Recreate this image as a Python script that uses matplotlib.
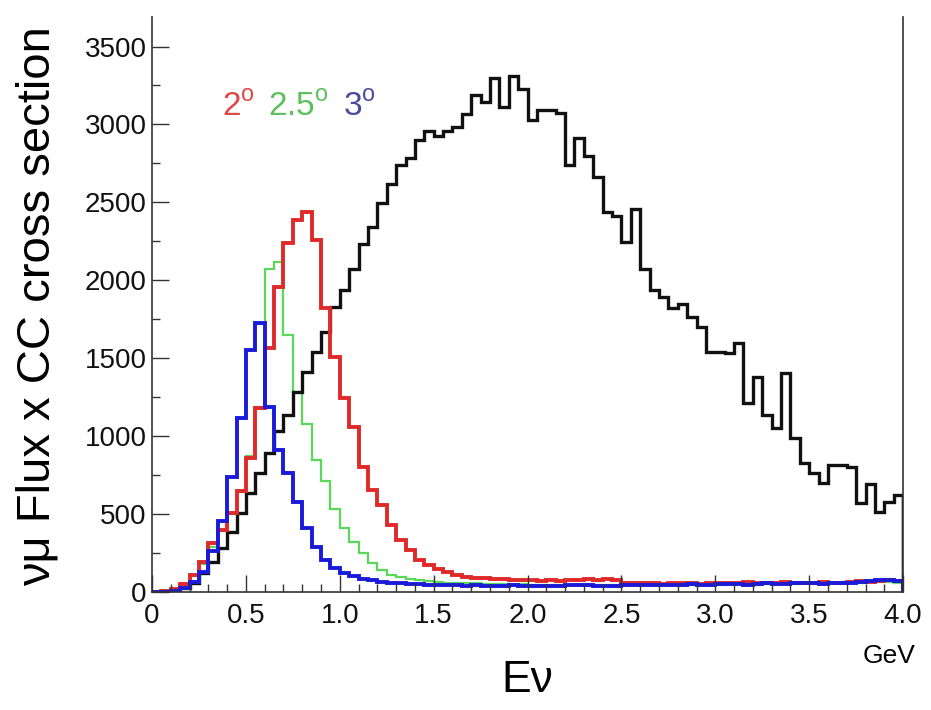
import numpy as np
import matplotlib
matplotlib.use('Agg')
import matplotlib.pyplot as plt
from matplotlib.ticker import MultipleLocator

plt.rcParams['font.family'] = ['Liberation Sans', 'DejaVu Sans']
plt.rcParams['mathtext.fontset'] = 'custom'
plt.rcParams['mathtext.rm'] = 'Liberation Sans'

# 80 bins of 0.05 GeV
edges = np.linspace(0, 4.0, 81)

black = [0, 2, 8, 25, 60, 120, 190, 280, 385, 505,
         635, 765, 890, 1030, 1135, 1285, 1410, 1540, 1670, 1830,
         1940, 2070, 2230, 2345, 2495, 2615, 2740, 2785, 2900, 2955,
         2925, 2955, 2985, 3065, 3190, 3145, 3300, 3110, 3310, 3225,
         3030, 3095, 3095, 3075, 2740, 2915, 2795, 2665, 2440, 2410,
         2245, 2460, 2070, 1940, 1895, 1825, 1845, 1765, 1700, 1540,
         1540, 1535, 1600, 1215, 1380, 1135, 1055, 1405, 990, 830,
         765, 700, 815, 815, 805, 570, 690, 515, 580, 625]

red = [0, 5, 20, 50, 110, 190, 315, 400, 505, 650,
       860, 1180, 1565, 1960, 2240, 2390, 2440, 2260, 1825, 1510,
       1245, 1060, 800, 655, 560, 430, 335, 270, 205, 175,
       150, 130, 110, 95, 90, 90, 85, 85, 80, 75,
       75, 70, 75, 70, 75, 80, 85, 80, 85, 80,
       60, 55, 60, 55, 50, 55, 60, 55, 50, 55,
       60, 55, 60, 65, 60, 55, 60, 65, 60, 55,
       60, 65, 60, 60, 65, 70, 65, 70, 75, 70]

green = [0, 3, 15, 45, 100, 180, 290, 390, 500, 640,
         870, 1190, 2070, 2120, 1650, 1285, 1075, 845, 710, 535,
         410, 320, 250, 185, 140, 110, 95, 85, 75, 70,
         65, 60, 58, 55, 55, 52, 50, 50, 48, 50,
         48, 45, 48, 45, 45, 48, 45, 45, 48, 45,
         45, 48, 45, 45, 48, 50, 48, 45, 50, 50,
         48, 50, 52, 50, 48, 52, 55, 52, 50, 55,
         55, 58, 55, 60, 58, 60, 62, 65, 62, 60]

blue = [0, 2, 8, 25, 65, 130, 260, 455, 740, 1118,
        1555, 1728, 1190, 912, 765, 580, 410, 290, 205, 155,
        120, 100, 85, 75, 65, 60, 55, 50, 50, 48,
        45, 45, 42, 40, 42, 40, 38, 40, 42, 40,
        38, 40, 38, 40, 42, 45, 42, 40, 38, 40,
        42, 45, 48, 45, 42, 45, 48, 50, 48, 45,
        50, 52, 50, 48, 50, 55, 52, 50, 55, 58,
        55, 52, 55, 58, 60, 62, 68, 75, 80, 70]

tick_labels = ['0', '0.5', '1.0', '1.5', '2.0', '2.5', '3.0', '3.5', '4.0']

fig = plt.figure(figsize=(9.31, 7.10), dpi=100)
ax = fig.add_axes([0.1633, 0.1662, 0.8067, 0.81])

ax.stairs(green, edges, color='#5ad85a', linewidth=1.6)
ax.stairs(black, edges, color='#111111', linewidth=2.4)
ax.stairs(red, edges, color='#e02a2a', linewidth=2.8)
ax.stairs(blue, edges, color='#1a1ad8', linewidth=2.8)
# black histogram closes down to zero at the right edge
ax.vlines(edges[-1], 0, black[-1], color='#111111', linewidth=2.4)

ax.set_xlim(0, 4.0)
ax.set_ylim(0, 3690)

ax.xaxis.set_minor_locator(MultipleLocator(0.1))
ax.yaxis.set_major_locator(MultipleLocator(500))
ax.yaxis.set_minor_locator(MultipleLocator(250))
ax.set_xticks(np.arange(0, 4.01, 0.5))
ax.set_xticklabels(tick_labels)
ax.tick_params(which='both', direction='in', labelsize=20, color='#333333', labelcolor='#111111')
ax.tick_params(which='major', length=12, width=1)
ax.tick_params(which='minor', length=6, width=1)
ax.tick_params(axis='x', pad=8)
ax.tick_params(axis='y', pad=4)

for side in ['left', 'bottom', 'right']:
    ax.spines[side].set_color('#333333')
    ax.spines[side].set_linewidth(1.2)
ax.spines['top'].set_visible(False)

fig.text(38 / 931, 0.569, 'νμ Flux x CC cross section', fontsize=34,
         rotation=90, ha='center', va='center')
fig.text(527 / 931, 1 - 680 / 710, 'Eν', fontsize=32, ha='center', va='center')
fig.text(889 / 931, 1 - 656 / 710, 'GeV', fontsize=19, ha='center', va='center')

ax.text(0.093, 0.843, '2$^{\\mathrm{o}}$', transform=ax.transAxes, fontsize=24, color='#e04848', ha='left', va='center')
ax.text(0.154, 0.843, '2.5$^{\\mathrm{o}}$', transform=ax.transAxes, fontsize=24, color='#5cc05c', ha='left', va='center')
ax.text(0.254, 0.843, '3$^{\\mathrm{o}}$', transform=ax.transAxes, fontsize=24, color='#4a4a9a', ha='left', va='center')

fig.savefig('out.png', dpi=100)
